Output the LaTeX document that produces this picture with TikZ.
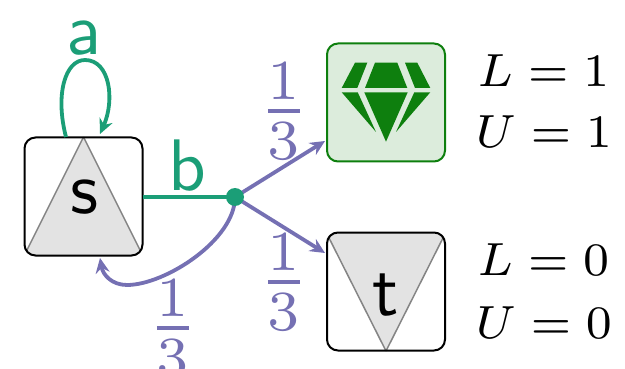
\documentclass[tikz,border=0pt]{standalone}
\usepackage{amsmath}
\usepackage{graphicx}
\usetikzlibrary{arrows.meta}
\definecolor{cgreen}{HTML}{1B9E77}
\definecolor{cpurple}{HTML}{7570B3}
\definecolor{gemgreen}{HTML}{0E7F0E}
\definecolor{gemfill}{HTML}{DCECDC}
\definecolor{tri}{HTML}{E3E3E3}
\newcommand{\bigsf}[1]{\scalebox{7.3}{\sffamily #1}}
\newcommand{\fr}{\scalebox{8.1}{$\frac{1}{3}$}}
\newcommand{\bd}[2]{\scalebox{6.65}{$\scriptstyle #1\mskip4.7mu=\mskip4.7mu #2$}}
\tikzset{
  x=1pt,y=-1pt,
  statebox/.style={draw=black,line width=2pt,rounded corners=11pt,minimum size=118pt,inner sep=0pt,outer sep=0pt},
  goalbox/.style={statebox,draw=gemgreen,fill=gemfill},
  tip/.style={-{Stealth[length=15pt,width=14pt,inset=5pt]}},
  act/.style={draw=cgreen,line width=3.8pt},
  prob/.style={draw=cpurple,line width=3.8pt},
  big/.style={inner sep=0pt},
  frac/.style={text=cpurple,inner sep=0pt},
  bound/.style={inner sep=0pt,anchor=base west},
  triline/.style={draw=black!48,line width=1.5pt},
}
\begin{document}
\begin{tikzpicture}
\useasboundingbox (0,0) rectangle (625,369);
% state s
\begin{scope}
  \clip[rounded corners=11pt] (24,137) rectangle (143,256);
  \fill[tri] (83.5,137) -- (24,256) -- (143,256) -- cycle;
  \draw[triline] (83.5,137) -- (24,256) (83.5,137) -- (143,256);
\end{scope}
\node[statebox] (s) at (83.5,196.5) {};
% state t
\begin{scope}
  \clip[rounded corners=11pt] (326,232) rectangle (446,351);
  \fill[tri] (326,232) -- (446,232) -- (386,351) -- cycle;
  \draw[triline] (326,232) -- (386,351) -- (446,232);
\end{scope}
\node[statebox] (t) at (386,291.5) {};
% goal
\node[goalbox] (g) at (386,102.5) {};
\fill[gemgreen]
  (355,62.7) -- (367.3,62.7) -- (357.3,88) -- (341.7,88) -- cycle
  (375,62.7) -- (397.3,62.7) -- (407.3,88) -- (365,88) -- cycle
  (405,62.7) -- (417.3,62.7) -- (430.3,88) -- (415,88) -- cycle
  (341.7,92.3) -- (357.7,92.3) -- (376,132) -- cycle
  (364.3,92.3) -- (407.7,92.3) -- (386,141.7) -- cycle
  (414.3,92.3) -- (430.3,92.3) -- (396,132) -- cycle;
% connector ends
\coordinate (dot) at (235,197);
\coordinate (loopout) at (66,137);
\coordinate (loopin) at (100,134);
\coordinate (backin) at (100,258);
\coordinate (gin) at (325,141);
\coordinate (tin) at (325,253);
% connectors
\draw[act,tip] (loopout) .. controls (55,95) and (65,60) .. (85,60)
  .. controls (110,60) and (115,100) .. (loopin);
\draw[act] (s.east |- dot) -- (dot);
\draw[prob,tip] (dot) -- (gin);
\draw[prob,tip] (dot) -- (tin);
\draw[prob,tip] (dot) .. controls (235,240) and (165,285) .. (127,285)
  .. controls (112,285) and (103,275) .. (backin);
\fill[cgreen] (dot) circle (9);
% labels
\node[big,text=cgreen,anchor=base] (la) at (84,55) {\bigsf{a}};
\node[big,text=cgreen,anchor=base] (lb) at (187,190) {\bigsf{b}};
\node[big,text=black,anchor=base] (ls) at (84,214) {\bigsf{s}};
\node[big,text=black,anchor=base] (lt) at (385.5,315) {\bigsf{t}};
\node[frac] (f1) at (284,111) {\fr};
\node[frac] (f2) at (284,282) {\fr};
\node[frac] (f3) at (173,328) {\fr};
\node[bound] (l1) at (477,87) {\bd{L}{1}};
\node[bound] (u1) at (475,148) {\bd{U}{1}};
\node[bound] (l0) at (477,275) {\bd{L}{0}};
\node[bound] (u0) at (475,338) {\bd{U}{0}};
\end{tikzpicture}
\end{document}
